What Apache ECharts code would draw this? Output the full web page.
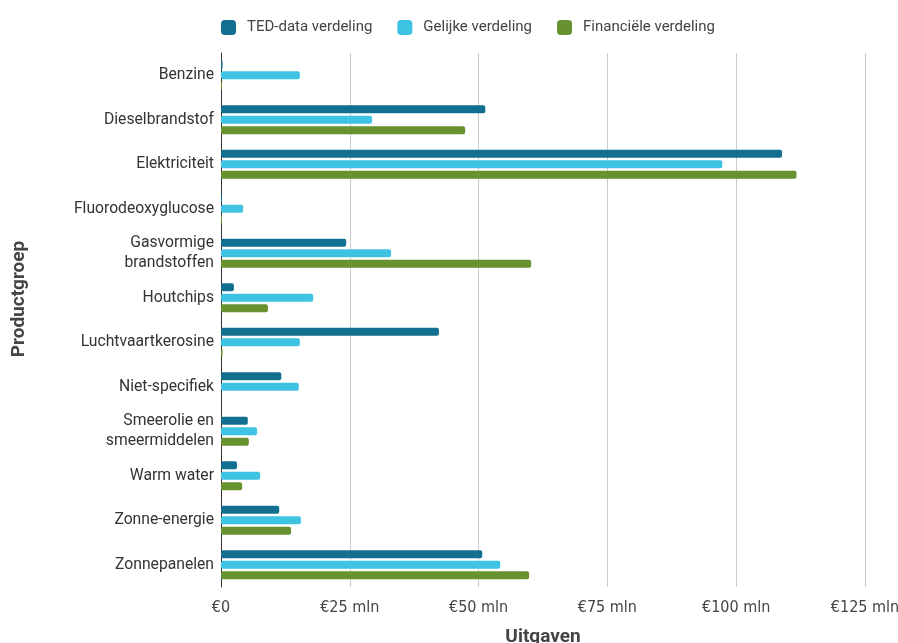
<!DOCTYPE html>
<html>
<head>
<meta charset="utf-8">
<script src="https://cdn.jsdelivr.net/npm/echarts@6/dist/echarts.min.js"></script>
<style>html,body{margin:0;padding:0;background:#fff}#c{width:898px;height:643px}</style>
</head>
<body>
<div id="c"></div>
<script>
const categories = ['Benzine','Dieselbrandstof','Elektriciteit','Fluorodeoxyglucose','Gasvormige\nbrandstoffen','Houtchips','Luchtvaartkerosine','Niet-specifiek','Smeerolie en\nsmeermiddelen','Warm water','Zonne-energie','Zonnepanelen'];
const tedData = [0.3, 51.3, 108.9, 0.2, 24.3, 2.5, 42.3, 11.7, 5.2, 3.1, 11.3, 50.7];
const gelijkeData = [15.3, 29.3, 97.3, 4.3, 33.0, 17.9, 15.3, 15.1, 7.0, 7.6, 15.5, 54.2];
const financieelData = [0.2, 47.4, 111.7, 0.2, 60.2, 9.1, 0.3, 0, 5.4, 4.1, 13.6, 59.8];
const seriesNames = ['TED-data verdeling','Gelijke verdeling','Financiële verdeling'];
const colors = ['#136f8f','#3fc3e3','#689130'];
const xTicks = [0,25,50,75,100,125];

const chart = echarts.init(document.getElementById('c'));
const mk = (name, data, i) => ({
  name, type:'bar', data, barWidth:8, barGap:'30%',
  itemStyle:{color:colors[i], borderRadius:2}
});
chart.setOption({
  animation:false,
  textStyle:{fontFamily:'Roboto'},
  legend:{
    left:216, top:15, itemWidth:15, itemHeight:15, itemGap:25,
    icon:'roundRect',
    textStyle:{fontSize:15, color:'#444', fontFamily:'Roboto', padding:[0,0,0,6]},
    data:seriesNames
  },
  grid:{left:221, right:33, top:53, bottom:56, containLabel:false, outerBoundsMode:'none'},
  xAxis:{
    type:'value', min:xTicks[0], max:xTicks[xTicks.length-1], interval:25,
    name:'Uitgaven', nameLocation:'middle', nameGap:41,
    nameTextStyle:{fontSize:19, fontWeight:'bold', color:'#444'},
    axisLine:{show:false}, axisTick:{show:false},
    splitLine:{lineStyle:{color:'#cccccc'}},
    axisLabel:{fontSize:16, color:'#444', margin:13, fontFamily:'"Liberation Sans Narrow", "DejaVu Sans Condensed", Roboto',
      formatter:v => v===0 ? '€0' : '€' + v + ' mln'}
  },
  yAxis:{
    type:'category', data:categories, inverse:true,
    name:'Productgroep', nameLocation:'middle', nameGap:192,
    nameTextStyle:{fontSize:19, fontWeight:'bold', color:'#444', padding:[0,0,0,42]},
    axisLine:{show:true, lineStyle:{color:'#333'}},
    axisTick:{show:false},
    axisLabel:{fontSize:15.7, color:'#333', margin:7, lineHeight:20}
  },
  series:[mk(seriesNames[0], tedData, 0), mk(seriesNames[1], gelijkeData, 1), mk(seriesNames[2], financieelData, 2)]
});
</script>
</body>
</html>
